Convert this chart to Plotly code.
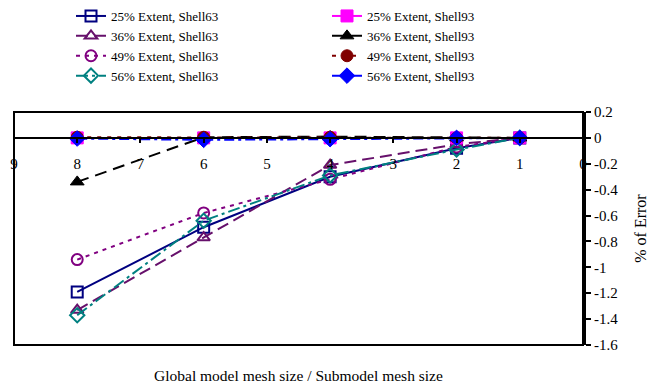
import plotly.graph_objects as go

# ---- data ----
x_vals = [8, 6, 4, 2, 1]

s63_25 = [-1.19, -0.69, -0.30, -0.08, 0.0]
s63_36 = [-1.33, -0.77, -0.21, -0.05, 0.0]
s63_49 = [-0.94, -0.58, -0.32, -0.07, 0.0]
s63_56 = [-1.37, -0.64, -0.29, -0.09, 0.0]

s93_25 = [0.0, 0.0, 0.0, 0.0, 0.0]
s93_36 = [-0.34, 0.005, 0.01, 0.0, 0.0]
s93_49 = [0.005, 0.005, 0.005, 0.0, 0.0]
s93_56 = [-0.005, -0.015, -0.01, 0.0, 0.0]

names63 = ["25% Extent, Shell63", "36% Extent, Shell63", "49% Extent, Shell63", "56% Extent, Shell63"]
names93 = ["25% Extent, Shell93", "36% Extent, Shell93", "49% Extent, Shell93", "56% Extent, Shell93"]

y_tickvals = [0.2, 0, -0.2, -0.4, -0.6, -0.8, -1, -1.2, -1.4, -1.6]
y_ticktext = ["0.2", "0", "-0.2", "-0.4", "-0.6", "-0.8", "-1", "-1.2", "-1.4", "-1.6"]
x_tickvals = [9, 8, 7, 6, 5, 4, 3, 2, 1, 0]

FONT = "Liberation Serif, Times New Roman, serif"

fig = go.Figure()

styles63 = [
    ("#000080", "solid", "square-open"),
    ("#66106B", "12px,6px", "triangle-up-open"),
    ("#800080", "4px,5px", "circle-open"),
    ("#008080", "12px,4px,3px,4px", "diamond-open"),
]
styles93 = [
    ("#FF00FF", "solid", "square"),
    ("#000000", "12px,7px", "triangle-up"),
    ("#800000", "4px,6px", "circle"),
    ("#0000FF", "10px,4px,3px,4px", "diamond"),
]

for name, ys, (c, d, s) in zip(names63, [s63_25, s63_36, s63_49, s63_56], styles63):
    fig.add_trace(go.Scatter(
        x=x_vals, y=ys, name=name, mode="lines+markers",
        line=dict(color=c, dash=d, width=2),
        marker=dict(symbol=s, size=11, color=c, line=dict(color=c, width=2)),
        legend="legend",
    ))

for name, ys, (c, d, s) in zip(names93, [s93_25, s93_36, s93_49, s93_56], styles93):
    fig.add_trace(go.Scatter(
        x=x_vals, y=ys, name=name, mode="lines+markers",
        line=dict(color=c, dash=d, width=2),
        marker=dict(symbol=s, size=12, color=c, line=dict(color=c, width=1)),
        legend="legend2",
    ))

fig.update_layout(
    width=658, height=385,
    margin=dict(l=14, r=75, t=112, b=40, autoexpand=False),
    paper_bgcolor="white", plot_bgcolor="white",
    font=dict(family=FONT, size=14, color="black"),
    showlegend=True,
    legend=dict(
        xref="container", yref="container", x=71 / 658, y=1 - 1 / 385,
        xanchor="left", yanchor="top", bgcolor="rgba(0,0,0,0)",
        font=dict(family=FONT, size=13, color="black"),
        traceorder="normal",
    ),
    legend2=dict(
        xref="container", yref="container", x=327 / 658, y=1 - 1 / 385,
        xanchor="left", yanchor="top", bgcolor="rgba(0,0,0,0)",
        font=dict(family=FONT, size=13, color="black"),
        traceorder="normal",
    ),
    xaxis=dict(
        range=[9, 0], anchor="free", position=1.6 / 1.8,
        tickvals=x_tickvals, showgrid=False, zeroline=False,
        showline=True, linecolor="black", linewidth=1.5,
        ticks="outside", ticklen=4, tickwidth=1.5, tickcolor="black",
        ticklabelstandoff=8,
        tickfont=dict(family=FONT, size=15, color="black"),
    ),
    yaxis=dict(
        range=[-1.6, 0.2], side="right", tickvals=y_tickvals, ticktext=y_ticktext,
        showgrid=False, zeroline=False,
        showline=True, linecolor="black", linewidth=3,
        ticks="outside", ticklen=5, tickwidth=2, tickcolor="black",
        tickfont=dict(family=FONT, size=15, color="black"),
        title=dict(text="% of Error", font=dict(family=FONT, size=16, color="black"), standoff=18),
    ),
    shapes=[dict(type="rect", xref="paper", yref="paper", x0=0, x1=1, y0=0, y1=1,
                 line=dict(color="black", width=2), layer="above")],
    annotations=[dict(text="Global model mesh size / Submodel mesh size",
                      xref="paper", yref="paper", x=0.5, y=-30 / 233,
                      xanchor="center", yanchor="middle", showarrow=False,
                      font=dict(family=FONT, size=15.5, color="black"))],
)

fig.write_html("out.html")
